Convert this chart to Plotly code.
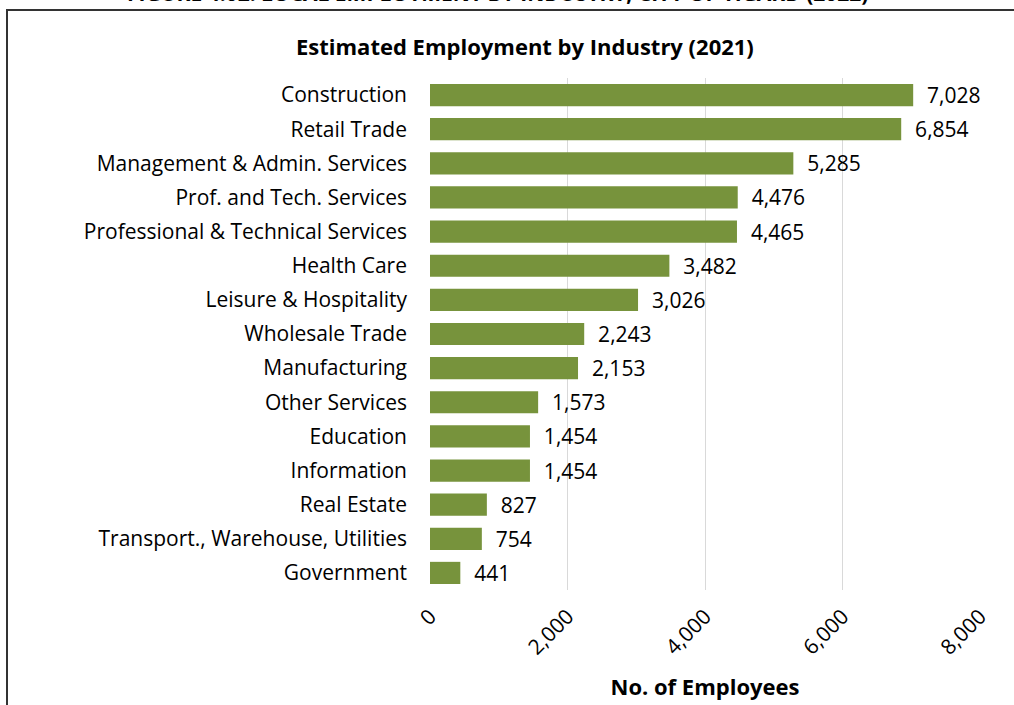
import plotly.graph_objects as go

industries = [
    "Construction", "Retail Trade", "Management & Admin. Services",
    "Prof. and Tech. Services", "Professional & Technical Services",
    "Health Care", "Leisure & Hospitality", "Wholesale Trade",
    "Manufacturing", "Other Services", "Education", "Information",
    "Real Estate", "Transport., Warehouse, Utilities", "Government",
]
employees = [7028, 6854, 5285, 4476, 4465, 3482, 3026, 2243, 2153,
             1573, 1454, 1454, 827, 754, 441]
x_ticks = [0, 2000, 4000, 6000, 8000]

FONT = "Open Sans, sans-serif"
W, H = 1014, 705
ML, MR, MT, MB = 430, 34, 78, 115
pw, ph = W - ML - MR, H - MT - MB


def px_to_paper(x, y):
    return (x - ML) / pw, 1 - (y - MT) / ph


NBSP = "\u00a0"
fig = go.Figure(go.Bar(
    x=employees,
    y=industries,
    orientation="h",
    marker=dict(color="#77933C", line=dict(width=0)),
    text=[NBSP * 2 + f"{v:,}" for v in employees],
    textposition="outside",
    constraintext="none",
    textfont=dict(size=21, color="#000000", family=FONT),
    cliponaxis=False,
))

x0, y0 = px_to_paper(7, 10)
x1, y1 = px_to_paper(1030, 730)

fig.update_layout(
    width=W, height=H,
    margin=dict(l=ML, r=MR, t=MT, b=MB),
    paper_bgcolor="white", plot_bgcolor="white",
    font=dict(family=FONT, size=21, color="#000000"),
    bargap=0.35,
    showlegend=False,
    shapes=[dict(type="rect", xref="paper", yref="paper",
                 x0=x0, y0=y1, x1=x1, y1=y0,
                 line=dict(color="#333333", width=2), layer="above")],
    annotations=[
        dict(text="<b>Estimated Employment by Industry (2021)</b>",
             xref="paper", yref="paper",
             x=px_to_paper(525, 0)[0], y=px_to_paper(0, 46)[1],
             xanchor="center", yanchor="middle", showarrow=False,
             font=dict(size=22, family=FONT, color="#000000")),
        dict(text="<b>FIGURE 4.02: LOCAL EMPLOYMENT BY INDUSTRY, CITY OF TIGARD (2022)</b>",
             xref="paper", yref="paper",
             x=px_to_paper(497, 0)[0], y=px_to_paper(0, -7)[1],
             xanchor="center", yanchor="middle", showarrow=False,
             font=dict(size=21, family=FONT, color="#000000")),
    ],
    xaxis=dict(
        range=[0, 8000], tickvals=x_ticks,
        ticktext=[f"{v:,}" for v in x_ticks],
        tickangle=-45, showgrid=True, gridcolor="#D9D9D9", gridwidth=1.3,
        zeroline=False, showline=False, ticks="outside", ticklen=5,
        tickcolor="rgba(0,0,0,0)", automargin=False,
        tickfont=dict(size=21, family=FONT),
        title=dict(text="<b>No. of Employees</b>", font=dict(size=22, family=FONT),
                   standoff=20),
    ),
    yaxis=dict(
        autorange="reversed", showgrid=False, zeroline=False,
        showline=False, ticks="", ticklabelstandoff=22, automargin=False,
        tickfont=dict(size=21, family=FONT),
    ),
)

fig.write_html("out.html")
